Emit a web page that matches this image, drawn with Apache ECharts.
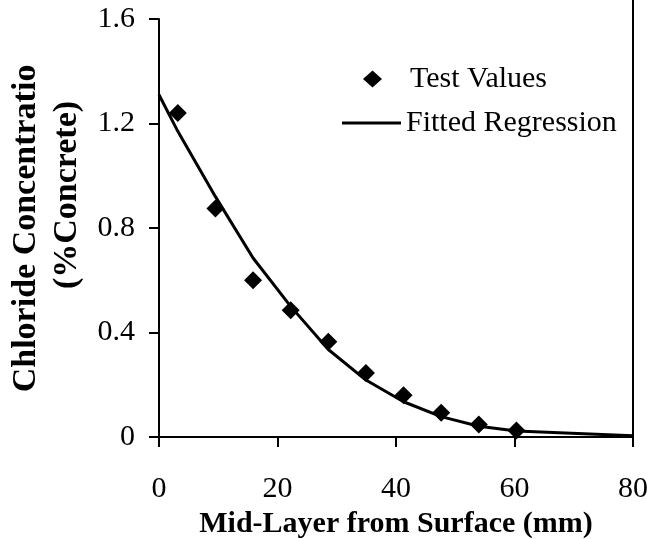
<!DOCTYPE html>
<html>
<head>
<meta charset="utf-8">
<script src="https://cdn.jsdelivr.net/npm/echarts@6/dist/echarts.min.js"></script>
<style>
  html, body { margin: 0; padding: 0; background: #fff; }
  #main { width: 647px; height: 539px; }
</style>
</head>
<body>
<div id="main"></div>
<script>
// mid-layer depths (mm) and measured chloride
const depths = [3.175, 9.525, 15.875, 22.225, 28.575, 34.925, 41.275, 47.625, 53.975, 60.325]
const testValues = [1.24, 0.875, 0.6, 0.485, 0.365, 0.245, 0.16, 0.093, 0.048, 0.025]
// regression curve vertices
const fitX = [0, 3.175, 9.525, 15.875, 22.225, 28.575, 34.925, 41.275, 47.625, 53.975, 60.325, 80]
const fitY = [1.31, 1.17, 0.92, 0.685, 0.5, 0.335, 0.218, 0.135, 0.078, 0.041, 0.023, 0.005]
const xTicks = [0, 20, 40, 60, 80]
const yTicks = [0, 0.4, 0.8, 1.2, 1.6]

const serif = '"Liberation Serif", "Times New Roman", serif'
const chart = echarts.init(document.getElementById('main'))

const legendText = { fontFamily: serif, fontSize: 30, color: '#000' }

const option = {
  animation: false,
  textStyle: { fontFamily: serif, color: '#000' },
  grid: { left: 159, right: 14, top: 19, bottom: 102, outerBoundsMode: 'none' },
  legend: [
    {
      left: 358,
      top: 59,
      itemWidth: 19,
      itemHeight: 17,
      textStyle: Object.assign({ padding: [0, 0, 0, 23] }, legendText),
      data: [{ name: 'Test Values', icon: 'diamond' }],
    },
    {
      left: 337,
      top: 103,
      itemWidth: 59,
      itemHeight: 3,
      textStyle: legendText,
      data: [{ name: 'Fitted Regression', icon: 'rect' }],
    },
  ],
  xAxis: {
    type: 'value',
    min: 0,
    max: 80,
    interval: 20,
    name: 'Mid-Layer from Surface (mm)',
    nameLocation: 'middle',
    nameGap: 59,
    nameTextStyle: { fontFamily: serif, fontSize: 30, fontWeight: 'bold', color: '#000' },
    axisLine: { lineStyle: { color: '#000', width: 2 } },
    axisTick: { inside: false, length: 10, lineStyle: { color: '#000', width: 2 } },
    axisLabel: {
      fontFamily: serif, fontSize: 30, color: '#000', margin: 37,
      formatter: (v) => (xTicks.includes(v) ? String(v) : ''),
    },
    splitLine: { show: false },
  },
  yAxis: {
    type: 'value',
    min: 0,
    max: 1.6,
    interval: 0.4,
    axisLine: { show: true, lineStyle: { color: '#000', width: 2 } },
    axisTick: { show: true, length: 10, lineStyle: { color: '#000', width: 2 } },
    axisLabel: {
      fontFamily: serif, fontSize: 30, color: '#000', margin: 24,
      formatter: (v) => {
        const t = yTicks.find((k) => Math.abs(k - v) < 1e-6)
        return t === undefined ? '' : (t === 0 ? '0' : t.toFixed(1))
      },
    },
    splitLine: { show: false },
  },
  graphic: [
    {
      type: 'line',
      shape: { x1: 633, y1: 0, x2: 633, y2: 437 },
      style: { stroke: '#000', lineWidth: 2 },
    },
    {
      type: 'text',
      x: 26,
      y: 219,
      rotation: Math.PI / 2,
      z: 10,
      style: {
        text: 'Chloride Concentration',
        font: 'bold 34px ' + serif,
        fill: '#000',
        align: 'center',
        verticalAlign: 'middle',
      },
    },
    {
      // the title box cuts the first line off at the top
      type: 'rect',
      z: 11,
      shape: { x: 0, y: 0, width: 46, height: 65 },
      style: { fill: '#fff' },
    },
    {
      type: 'text',
      x: 67,
      y: 195,
      rotation: Math.PI / 2,
      z: 10,
      style: {
        text: '(%Concrete)',
        font: 'bold 34px ' + serif,
        fill: '#000',
        align: 'center',
        verticalAlign: 'middle',
      },
    },
  ],
  series: [
    {
      name: 'Fitted Regression',
      type: 'line',
      data: fitX.map((x, i) => [x, fitY[i]]),
      showSymbol: false,
      symbol: 'none',
      lineStyle: { color: '#000', width: 3 },
      itemStyle: { color: '#000' },
      z: 2,
    },
    {
      name: 'Test Values',
      type: 'scatter',
      data: depths.map((x, i) => [x, testValues[i]]),
      symbol: 'diamond',
      symbolSize: 18,
      itemStyle: { color: '#000', opacity: 1 },
      z: 3,
    },
  ],
}

chart.setOption(option)
</script>
</body>
</html>
